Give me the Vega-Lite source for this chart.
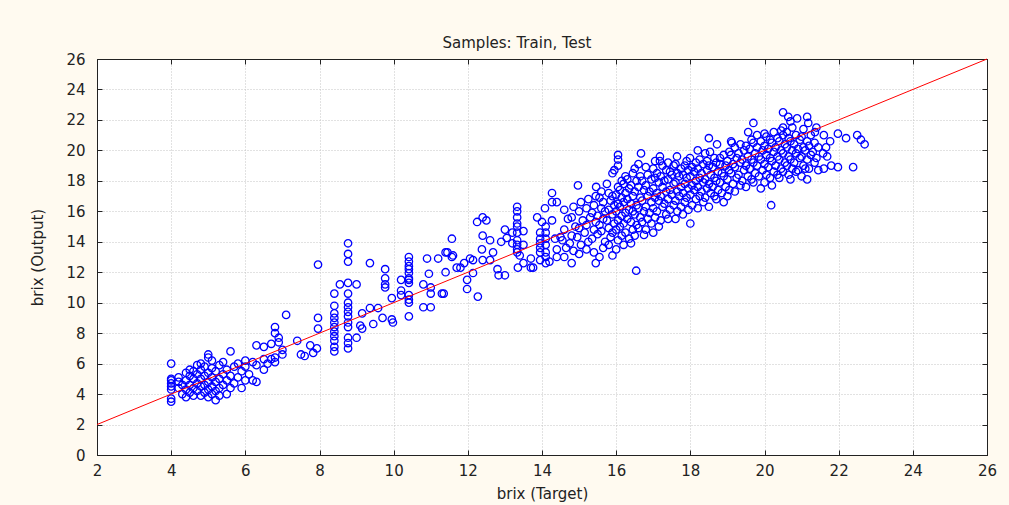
{
  "$schema": "https://vega.github.io/schema/vega-lite/v6.json",
  "width": 890,
  "height": 396,
  "autosize": {"type": "none"},
  "padding": {"left": 97, "top": 59, "right": 22, "bottom": 50},
  "background": "#fffaf0",
  "title": {"text": "Samples: Train, Test", "font": "DejaVu Sans", "fontSize": 15, "fontWeight": "normal", "color": "#222222", "anchor": "middle", "frame": "group", "dx": -25, "baseline": "alphabetic", "offset": -11},
  "config": {
    "view": {"stroke": "#222222", "strokeWidth": 1, "fill": "#ffffff"},
    "axis": {"labelFont": "DejaVu Sans", "labelFontSize": 15, "labelColor": "#222222", "titleFont": "DejaVu Sans", "titleFontSize": 15, "titleFontWeight": "normal", "titleColor": "#222222", "tickColor": "#222222", "domainColor": "#222222", "tickSize": -5, "gridColor": "#c4c4c4", "gridDash": [1, 2], "gridWidth": 1}
  },
  "datasets": {
    "line": [{"t": 2, "o": 2}, {"t": 26, "o": 26}],
    "pts": [
{"t":4.0,"o":3.5},{"t":4.0,"o":3.7},{"t":4.0,"o":4.3},{"t":4.0,"o":4.5},{"t":4.0,"o":4.7},{"t":4.0,"o":4.9},{"t":4.0,"o":5.0},{"t":4.0,"o":6.0},
{"t":4.2,"o":4.4},{"t":4.2,"o":4.8},{"t":4.2,"o":5.1},{"t":4.3,"o":4.0},{"t":4.3,"o":4.6},
{"t":4.4,"o":3.8},{"t":4.4,"o":4.3},{"t":4.4,"o":4.9},{"t":4.4,"o":5.4},
{"t":4.5,"o":4.1},{"t":4.5,"o":4.6},{"t":4.5,"o":5.2},{"t":4.5,"o":5.6},
{"t":4.6,"o":3.9},{"t":4.6,"o":4.4},{"t":4.6,"o":5.0},{"t":4.6,"o":5.5},
{"t":4.7,"o":4.2},{"t":4.7,"o":4.7},{"t":4.7,"o":5.3},{"t":4.7,"o":5.9},
{"t":4.8,"o":3.9},{"t":4.8,"o":4.5},{"t":4.8,"o":5.0},{"t":4.8,"o":5.6},{"t":4.8,"o":6.0},
{"t":4.9,"o":4.1},{"t":4.9,"o":4.6},{"t":4.9,"o":5.2},{"t":4.9,"o":5.8},
{"t":5.0,"o":3.8},{"t":5.0,"o":4.3},{"t":5.0,"o":4.8},{"t":5.0,"o":5.4},{"t":5.0,"o":6.4},{"t":5.0,"o":6.6},
{"t":5.1,"o":4.0},{"t":5.1,"o":4.5},{"t":5.1,"o":5.1},{"t":5.1,"o":5.7},{"t":5.1,"o":6.2},
{"t":5.2,"o":3.6},{"t":5.2,"o":4.2},{"t":5.2,"o":4.8},{"t":5.2,"o":5.5},
{"t":5.3,"o":3.9},{"t":5.3,"o":4.4},{"t":5.3,"o":5.0},{"t":5.3,"o":5.9},
{"t":5.4,"o":4.6},{"t":5.4,"o":5.3},{"t":5.4,"o":6.1},
{"t":5.5,"o":4.0},{"t":5.5,"o":4.9},{"t":5.5,"o":5.6},
{"t":5.6,"o":4.4},{"t":5.6,"o":5.2},{"t":5.6,"o":6.8},
{"t":5.7,"o":4.7},{"t":5.7,"o":5.8},{"t":5.8,"o":5.1},{"t":5.8,"o":6.0},
{"t":5.9,"o":4.4},{"t":5.9,"o":5.5},{"t":6.0,"o":4.9},{"t":6.0,"o":5.8},{"t":6.0,"o":6.2},
{"t":6.1,"o":5.3},{"t":6.2,"o":4.9},{"t":6.2,"o":6.1},{"t":6.3,"o":4.8},{"t":6.3,"o":5.9},{"t":6.3,"o":7.2},
{"t":6.5,"o":5.6},{"t":6.5,"o":6.3},{"t":6.5,"o":7.1},{"t":6.6,"o":6.0},{"t":6.7,"o":6.3},{"t":6.7,"o":7.3},
{"t":6.8,"o":6.1},{"t":6.8,"o":6.4},{"t":6.8,"o":8.0},{"t":6.8,"o":8.4},{"t":6.9,"o":7.4},{"t":6.9,"o":7.7},
{"t":7.0,"o":6.6},{"t":7.0,"o":6.9},{"t":7.1,"o":9.2},{"t":7.4,"o":7.5},{"t":7.5,"o":6.6},{"t":7.6,"o":6.5},
{"t":7.75,"o":7.2},{"t":7.83,"o":6.7},{"t":7.93,"o":7.0},{"t":7.96,"o":12.5},{"t":7.96,"o":9.0},{"t":7.96,"o":8.3},
{"t":8.4,"o":9.8},{"t":8.4,"o":9.3},{"t":8.4,"o":9.0},{"t":8.4,"o":8.7},{"t":8.4,"o":8.4},{"t":8.4,"o":8.1},{"t":8.4,"o":7.8},{"t":8.4,"o":7.5},{"t":8.4,"o":7.1},{"t":8.4,"o":6.8},{"t":8.4,"o":10.6},
{"t":8.55,"o":11.2},
{"t":8.77,"o":13.9},{"t":8.77,"o":13.2},{"t":8.77,"o":12.7},{"t":8.77,"o":11.3},{"t":8.77,"o":10.6},{"t":8.77,"o":10.0},{"t":8.77,"o":9.7},{"t":8.77,"o":9.4},{"t":8.77,"o":9.1},{"t":8.77,"o":8.7},{"t":8.77,"o":8.4},{"t":8.77,"o":7.7},{"t":8.77,"o":7.35},{"t":8.77,"o":7.0},
{"t":9.0,"o":11.2},{"t":9.0,"o":7.7},
{"t":9.1,"o":8.5},{"t":9.15,"o":9.3},{"t":9.15,"o":8.3},{"t":9.36,"o":12.6},{"t":9.36,"o":9.65},{"t":9.45,"o":8.6},{"t":9.58,"o":9.65},{"t":9.7,"o":9.0},
{"t":9.77,"o":12.2},{"t":9.77,"o":11.6},{"t":9.77,"o":11.2},{"t":9.77,"o":11.0},{"t":9.95,"o":10.3},{"t":9.95,"o":8.9},{"t":9.98,"o":8.7},
{"t":10.2,"o":11.5},{"t":10.2,"o":10.8},{"t":10.2,"o":10.5},
{"t":10.41,"o":13.0},{"t":10.41,"o":12.7},{"t":10.41,"o":12.4},{"t":10.41,"o":12.2},{"t":10.41,"o":11.95},{"t":10.41,"o":11.6},{"t":10.41,"o":11.3},{"t":10.41,"o":11.5},{"t":10.41,"o":10.5},{"t":10.41,"o":10.2},{"t":10.41,"o":10.0},{"t":10.41,"o":9.1},
{"t":10.8,"o":11.2},{"t":10.8,"o":9.7},{"t":10.9,"o":12.9},{"t":10.95,"o":11.9},{"t":11.0,"o":11.0},{"t":11.0,"o":10.6},{"t":11.0,"o":9.7},
{"t":11.2,"o":12.9},{"t":11.3,"o":10.6},{"t":11.35,"o":10.6},{"t":11.4,"o":13.3},{"t":11.4,"o":12.0},{"t":11.45,"o":13.3},
{"t":11.57,"o":14.2},{"t":11.57,"o":13.0},{"t":11.6,"o":13.1},{"t":11.7,"o":12.3},{"t":11.8,"o":12.3},{"t":11.9,"o":12.6},
{"t":11.98,"o":11.5},{"t":11.98,"o":10.9},{"t":12.06,"o":12.9},{"t":12.14,"o":12.8},{"t":12.14,"o":11.95},{"t":12.25,"o":15.3},{"t":12.27,"o":10.4},
{"t":12.38,"o":13.5},{"t":12.4,"o":15.6},{"t":12.4,"o":14.4},{"t":12.4,"o":12.8},{"t":12.5,"o":15.4},{"t":12.6,"o":12.8},{"t":12.6,"o":14.1},
{"t":12.68,"o":13.3},{"t":12.8,"o":12.2},{"t":12.83,"o":11.8},{"t":12.9,"o":14.0},{"t":13.0,"o":14.8},{"t":13.0,"o":11.8},{"t":13.05,"o":14.25},
{"t":13.2,"o":14.6},{"t":13.2,"o":13.9},
{"t":13.33,"o":16.3},{"t":13.33,"o":16.0},{"t":13.33,"o":15.6},{"t":13.33,"o":15.2},{"t":13.33,"o":15.0},{"t":13.33,"o":14.6},{"t":13.33,"o":14.1},{"t":13.33,"o":13.8},{"t":13.33,"o":13.5},{"t":13.33,"o":13.3},
{"t":13.35,"o":12.3},{"t":13.4,"o":13.1},{"t":13.5,"o":14.7},{"t":13.5,"o":13.8},{"t":13.5,"o":12.6},{"t":13.7,"o":12.9},{"t":13.7,"o":12.3},{"t":13.76,"o":12.3},{"t":13.87,"o":15.6},
{"t":13.95,"o":14.6},{"t":13.95,"o":14.2},{"t":13.95,"o":13.9},{"t":13.95,"o":13.6},{"t":13.95,"o":13.3},{"t":13.95,"o":12.8},{"t":14.0,"o":15.3},
{"t":14.1,"o":15.0},{"t":14.1,"o":14.6},{"t":14.1,"o":14.2},{"t":14.1,"o":13.8},{"t":14.1,"o":13.3},{"t":14.1,"o":13.0},{"t":14.1,"o":12.6},{"t":14.08,"o":16.2},
{"t":14.2,"o":12.7},{"t":14.27,"o":17.2},{"t":14.27,"o":16.6},{"t":14.27,"o":15.4},{"t":14.35,"o":14.2},{"t":14.4,"o":16.6},{"t":14.4,"o":13.0},{"t":14.4,"o":13.5},{"t":14.5,"o":14.3},
{"t":14.6,"o":13.0},{"t":14.65,"o":13.6},{"t":14.55,"o":14.1},{"t":14.6,"o":14.8},{"t":14.7,"o":15.5},{"t":14.6,"o":16.1},
{"t":14.8,"o":12.6},{"t":14.85,"o":13.4},{"t":14.75,"o":13.9},{"t":14.8,"o":14.4},{"t":14.9,"o":15.0},{"t":14.8,"o":15.6},{"t":14.85,"o":16.3},
{"t":15.0,"o":13.2},{"t":15.05,"o":13.8},{"t":14.95,"o":14.3},{"t":15.0,"o":14.9},{"t":15.1,"o":15.4},{"t":15.0,"o":16.0},{"t":15.05,"o":16.6},{"t":14.97,"o":17.7},
{"t":15.2,"o":13.5},{"t":15.25,"o":14.0},{"t":15.15,"o":14.6},{"t":15.2,"o":15.1},{"t":15.3,"o":15.6},{"t":15.2,"o":16.2},{"t":15.25,"o":16.8},
{"t":15.45,"o":12.6},{"t":15.4,"o":13.3},{"t":15.35,"o":14.2},{"t":15.4,"o":14.8},{"t":15.45,"o":15.3},{"t":15.35,"o":15.9},{"t":15.4,"o":16.4},{"t":15.45,"o":17.0},{"t":15.46,"o":17.6},
{"t":15.55,"o":13.0},{"t":15.5,"o":14.5},{"t":15.55,"o":15.1},{"t":15.5,"o":15.7},{"t":15.6,"o":16.2},{"t":15.55,"o":16.9},
{"t":15.65,"o":13.6},{"t":15.7,"o":14.0},{"t":15.6,"o":14.7},{"t":15.65,"o":15.5},{"t":15.7,"o":16.0},{"t":15.65,"o":16.6},{"t":15.6,"o":17.3},
{"t":15.9,"o":13.1},{"t":15.8,"o":13.8},{"t":15.85,"o":14.3},{"t":15.8,"o":14.9},{"t":15.75,"o":15.4},{"t":15.8,"o":16.1},{"t":15.85,"o":16.7},{"t":15.8,"o":17.2},{"t":15.75,"o":17.8},
{"t":15.9,"o":14.6},{"t":15.95,"o":15.2},{"t":15.9,"o":15.8},{"t":15.95,"o":16.4},{"t":15.9,"o":17.0},{"t":15.9,"o":18.5},
{"t":16.0,"o":13.5},{"t":16.05,"o":14.1},{"t":16.0,"o":14.8},{"t":16.05,"o":15.4},{"t":16.0,"o":16.0},{"t":16.05,"o":16.5},{"t":16.0,"o":17.1},{"t":16.05,"o":17.6},{"t":15.95,"o":18.7},{"t":16.05,"o":19.0},{"t":16.05,"o":19.4},{"t":16.05,"o":19.7},
{"t":16.15,"o":14.4},{"t":16.1,"o":15.0},{"t":16.15,"o":15.7},{"t":16.1,"o":16.3},{"t":16.15,"o":16.9},{"t":16.1,"o":17.4},{"t":16.15,"o":18.0},
{"t":16.2,"o":13.8},{"t":16.25,"o":14.6},{"t":16.2,"o":15.2},{"t":16.25,"o":15.9},{"t":16.2,"o":16.6},{"t":16.25,"o":17.2},{"t":16.2,"o":17.8},{"t":16.25,"o":18.3},
{"t":16.35,"o":14.2},{"t":16.3,"o":15.5},{"t":16.35,"o":16.1},{"t":16.3,"o":16.8},{"t":16.35,"o":17.5},{"t":16.3,"o":18.1},
{"t":16.4,"o":13.9},{"t":16.45,"o":14.8},{"t":16.4,"o":15.3},{"t":16.45,"o":16.0},{"t":16.4,"o":16.5},{"t":16.45,"o":17.0},{"t":16.4,"o":17.7},{"t":16.45,"o":18.5},
{"t":16.54,"o":12.1},{"t":16.5,"o":14.4},{"t":16.55,"o":15.1},{"t":16.5,"o":15.8},{"t":16.55,"o":16.4},{"t":16.5,"o":17.3},{"t":16.55,"o":18.0},{"t":16.5,"o":18.8},
{"t":16.6,"o":14.9},{"t":16.65,"o":15.6},{"t":16.6,"o":16.2},{"t":16.65,"o":16.9},{"t":16.6,"o":17.6},{"t":16.65,"o":18.3},{"t":16.6,"o":19.1},
{"t":16.75,"o":14.45},{"t":16.7,"o":15.3},{"t":16.75,"o":16.0},{"t":16.7,"o":16.7},{"t":16.75,"o":17.4},{"t":16.7,"o":18.0},{"t":16.67,"o":19.8},
{"t":16.8,"o":14.8},{"t":16.85,"o":15.5},{"t":16.8,"o":16.3},{"t":16.85,"o":17.0},{"t":16.8,"o":17.7},{"t":16.85,"o":18.4},{"t":16.8,"o":18.9},
{"t":16.95,"o":15.2},{"t":16.9,"o":15.9},{"t":16.95,"o":16.6},{"t":16.9,"o":17.3},{"t":16.95,"o":18.1},
{"t":17.0,"o":14.6},{"t":17.05,"o":15.6},{"t":17.0,"o":16.2},{"t":17.05,"o":16.9},{"t":17.0,"o":17.5},{"t":17.05,"o":18.2},{"t":17.0,"o":18.8},{"t":17.05,"o":19.3},
{"t":17.15,"o":15.0},{"t":17.1,"o":16.0},{"t":17.15,"o":16.7},{"t":17.1,"o":17.2},{"t":17.15,"o":17.9},{"t":17.1,"o":18.5},
{"t":17.2,"o":15.4},{"t":17.25,"o":16.3},{"t":17.2,"o":17.0},{"t":17.25,"o":17.6},{"t":17.2,"o":18.3},{"t":17.25,"o":19.0},{"t":17.18,"o":19.3},{"t":17.18,"o":19.6},
{"t":17.35,"o":15.8},{"t":17.3,"o":16.5},{"t":17.35,"o":17.3},{"t":17.3,"o":18.0},{"t":17.35,"o":18.7},
{"t":17.4,"o":15.5},{"t":17.45,"o":16.1},{"t":17.4,"o":16.8},{"t":17.45,"o":17.4},{"t":17.4,"o":18.1},{"t":17.45,"o":18.6},{"t":17.4,"o":19.2},
{"t":17.55,"o":16.4},{"t":17.5,"o":17.1},{"t":17.55,"o":17.8},{"t":17.5,"o":18.4},{"t":17.55,"o":19.0},
{"t":17.6,"o":15.5},{"t":17.65,"o":16.0},{"t":17.6,"o":16.7},{"t":17.65,"o":17.3},{"t":17.6,"o":17.9},{"t":17.65,"o":18.5},{"t":17.6,"o":19.1},{"t":17.64,"o":19.6},
{"t":17.75,"o":16.3},{"t":17.7,"o":17.0},{"t":17.75,"o":17.6},{"t":17.7,"o":18.3},{"t":17.75,"o":18.8},
{"t":17.8,"o":15.8},{"t":17.85,"o":16.6},{"t":17.8,"o":17.2},{"t":17.85,"o":17.8},{"t":17.8,"o":18.4},{"t":17.85,"o":19.0},{"t":17.99,"o":19.5},
{"t":17.95,"o":16.1},{"t":17.9,"o":16.9},{"t":17.95,"o":17.5},{"t":17.9,"o":18.2},{"t":17.95,"o":18.7},{"t":17.9,"o":19.3},
{"t":18.0,"o":15.2},{"t":18.05,"o":16.4},{"t":18.0,"o":17.1},{"t":18.05,"o":17.7},{"t":18.0,"o":18.3},{"t":18.05,"o":18.9},{"t":18.2,"o":20.0},
{"t":18.15,"o":16.8},{"t":18.1,"o":17.4},{"t":18.15,"o":18.0},{"t":18.1,"o":18.6},{"t":18.15,"o":19.2},
{"t":18.2,"o":16.2},{"t":18.25,"o":17.0},{"t":18.2,"o":17.6},{"t":18.25,"o":18.2},{"t":18.2,"o":18.8},{"t":18.25,"o":19.4},{"t":18.45,"o":19.3},
{"t":18.35,"o":16.6},{"t":18.3,"o":17.3},{"t":18.35,"o":17.9},{"t":18.3,"o":18.5},{"t":18.35,"o":19.1},
{"t":18.4,"o":16.9},{"t":18.45,"o":17.5},{"t":18.4,"o":18.1},{"t":18.45,"o":18.7},{"t":18.53,"o":19.9},{"t":18.4,"o":19.8},
{"t":18.5,"o":16.3},{"t":18.55,"o":17.2},{"t":18.5,"o":17.8},{"t":18.55,"o":18.4},{"t":18.5,"o":19.0},{"t":18.72,"o":20.4},{"t":18.5,"o":20.8},
{"t":18.65,"o":17.0},{"t":18.6,"o":17.6},{"t":18.65,"o":18.2},{"t":18.6,"o":18.9},{"t":18.65,"o":19.5},
{"t":18.7,"o":16.8},{"t":18.75,"o":17.4},{"t":18.7,"o":18.0},{"t":18.75,"o":18.6},{"t":18.7,"o":19.2},{"t":18.8,"o":19.5},
{"t":18.85,"o":17.2},{"t":18.8,"o":17.9},{"t":18.85,"o":18.5},{"t":18.8,"o":19.1},{"t":19.12,"o":20.5},
{"t":18.9,"o":16.6},{"t":18.95,"o":17.6},{"t":18.9,"o":18.3},{"t":18.95,"o":19.0},{"t":18.9,"o":19.7},
{"t":19.0,"o":17.0},{"t":19.05,"o":17.4},{"t":19.0,"o":18.1},{"t":19.05,"o":18.7},{"t":19.0,"o":19.3},{"t":19.05,"o":19.9},
{"t":19.15,"o":17.8},{"t":19.1,"o":18.5},{"t":19.15,"o":19.1},{"t":19.1,"o":19.7},{"t":19.1,"o":20.6},
{"t":19.2,"o":17.3},{"t":19.25,"o":18.2},{"t":19.2,"o":18.9},{"t":19.25,"o":19.5},{"t":19.2,"o":20.2},
{"t":19.35,"o":17.7},{"t":19.3,"o":18.4},{"t":19.35,"o":19.2},{"t":19.3,"o":19.8},{"t":19.35,"o":20.4},
{"t":19.4,"o":18.0},{"t":19.45,"o":18.7},{"t":19.4,"o":19.4},{"t":19.45,"o":20.0},
{"t":19.5,"o":17.6},{"t":19.55,"o":18.3},{"t":19.5,"o":19.0},{"t":19.55,"o":19.6},{"t":19.5,"o":20.3},{"t":19.56,"o":21.2},
{"t":19.65,"o":18.1},{"t":19.6,"o":18.8},{"t":19.65,"o":19.4},{"t":19.6,"o":20.1},{"t":19.65,"o":20.7},
{"t":19.7,"o":17.9},{"t":19.75,"o":18.5},{"t":19.7,"o":19.2},{"t":19.75,"o":19.8},{"t":19.7,"o":20.5},{"t":19.7,"o":21.8},
{"t":19.85,"o":18.3},{"t":19.8,"o":19.0},{"t":19.85,"o":19.6},{"t":19.8,"o":20.2},{"t":19.8,"o":21.0},
{"t":19.9,"o":17.5},{"t":19.95,"o":18.7},{"t":19.9,"o":19.4},{"t":19.95,"o":20.0},{"t":19.9,"o":20.6},
{"t":20.0,"o":17.9},{"t":20.05,"o":18.4},{"t":20.0,"o":19.1},{"t":20.05,"o":19.7},{"t":20.0,"o":20.3},{"t":20.05,"o":20.9},{"t":20.0,"o":21.1},
{"t":20.15,"o":18.2},{"t":20.1,"o":18.9},{"t":20.15,"o":19.5},{"t":20.1,"o":20.1},{"t":20.15,"o":20.7},
{"t":20.18,"o":16.4},{"t":20.2,"o":17.7},{"t":20.25,"o":18.6},{"t":20.2,"o":19.3},{"t":20.25,"o":19.9},{"t":20.2,"o":20.5},{"t":20.25,"o":21.2},
{"t":20.35,"o":18.4},{"t":20.3,"o":19.0},{"t":20.35,"o":19.6},{"t":20.3,"o":20.2},{"t":20.35,"o":20.8},
{"t":20.4,"o":18.2},{"t":20.45,"o":18.8},{"t":20.4,"o":19.4},{"t":20.45,"o":20.0},{"t":20.4,"o":20.6},{"t":20.45,"o":21.3},
{"t":20.5,"o":18.6},{"t":20.55,"o":19.2},{"t":20.5,"o":19.8},{"t":20.55,"o":20.4},{"t":20.5,"o":21.0},{"t":20.5,"o":21.5},{"t":20.5,"o":22.5},
{"t":20.65,"o":18.4},{"t":20.6,"o":19.0},{"t":20.65,"o":19.6},{"t":20.6,"o":20.2},{"t":20.65,"o":20.8},{"t":20.6,"o":21.2},
{"t":20.7,"o":18.1},{"t":20.75,"o":18.8},{"t":20.7,"o":19.4},{"t":20.75,"o":20.0},{"t":20.7,"o":20.6},{"t":20.7,"o":21.9},{"t":20.64,"o":22.2},
{"t":20.85,"o":18.6},{"t":20.8,"o":19.2},{"t":20.85,"o":19.8},{"t":20.8,"o":20.4},{"t":20.85,"o":21.0},{"t":20.75,"o":21.5},
{"t":20.9,"o":18.7},{"t":20.95,"o":19.5},{"t":20.9,"o":20.1},{"t":20.95,"o":20.7},{"t":20.88,"o":22.1},
{"t":21.0,"o":18.3},{"t":21.05,"o":19.0},{"t":21.0,"o":19.6},{"t":21.05,"o":20.2},{"t":21.0,"o":20.9},{"t":21.05,"o":21.4},
{"t":21.15,"o":18.1},{"t":21.1,"o":18.8},{"t":21.15,"o":19.4},{"t":21.1,"o":20.0},{"t":21.15,"o":20.6},
{"t":21.2,"o":18.8},{"t":21.25,"o":19.7},{"t":21.2,"o":20.3},{"t":21.25,"o":21.0},{"t":21.18,"o":21.8},{"t":21.15,"o":22.2},
{"t":21.35,"o":19.2},{"t":21.3,"o":19.9},{"t":21.35,"o":20.5},{"t":21.36,"o":21.2},
{"t":21.45,"o":18.7},{"t":21.4,"o":19.5},{"t":21.45,"o":20.2},{"t":21.4,"o":21.5},
{"t":21.6,"o":18.8},{"t":21.69,"o":19.6},{"t":21.58,"o":19.8},{"t":21.66,"o":20.2},{"t":21.6,"o":21.0},
{"t":21.77,"o":20.6},{"t":21.8,"o":19.0},
{"t":21.98,"o":18.9},{"t":21.98,"o":21.1},{"t":22.2,"o":20.8},{"t":22.39,"o":18.9},{"t":22.5,"o":21.0},{"t":22.6,"o":20.7},{"t":22.7,"o":20.4}
    ]
  },
  "layer": [
    {
      "data": {"name": "pts"},
      "mark": {"type": "point", "shape": "circle", "filled": false, "stroke": "#0000ff", "strokeWidth": 1.3, "size": 55, "opacity": 1},
      "encoding": {
        "x": {"field": "t", "type": "quantitative", "scale": {"domain": [2, 26], "nice": false, "zero": false},
              "axis": {"orient": "bottom", "title": "brix (Target)", "values": [2,4,6,8,10,12,14,16,18,20,22,24,26], "grid": true, "labelPadding": 13, "titlePadding": 8, "labelFlush": false}},
        "y": {"field": "o", "type": "quantitative", "scale": {"domain": [0, 26], "nice": false, "zero": false},
              "axis": {"orient": "left", "title": "brix (Output)", "values": [0,2,4,6,8,10,12,14,16,18,20,22,24,26], "grid": true, "labelPadding": 17, "titlePadding": 20, "labelFlush": false}}
      }
    },
    {
      "data": {"name": "line"},
      "mark": {"type": "line", "color": "#ff0000", "strokeWidth": 1},
      "encoding": {
        "x": {"field": "t", "type": "quantitative", "scale": {"domain": [2, 26], "nice": false, "zero": false},
              "axis": {"orient": "top", "title": null, "labels": false, "grid": false, "minExtent": 0, "maxExtent": 0, "values": [2,4,6,8,10,12,14,16,18,20,22,24,26]}},
        "y": {"field": "o", "type": "quantitative", "scale": {"domain": [0, 26], "nice": false, "zero": false},
              "axis": {"orient": "right", "title": null, "labels": false, "grid": false, "minExtent": 0, "maxExtent": 0, "values": [0,2,4,6,8,10,12,14,16,18,20,22,24,26]}}
      }
    }
  ],
  "resolve": {"axis": {"x": "independent", "y": "independent"}}
}
